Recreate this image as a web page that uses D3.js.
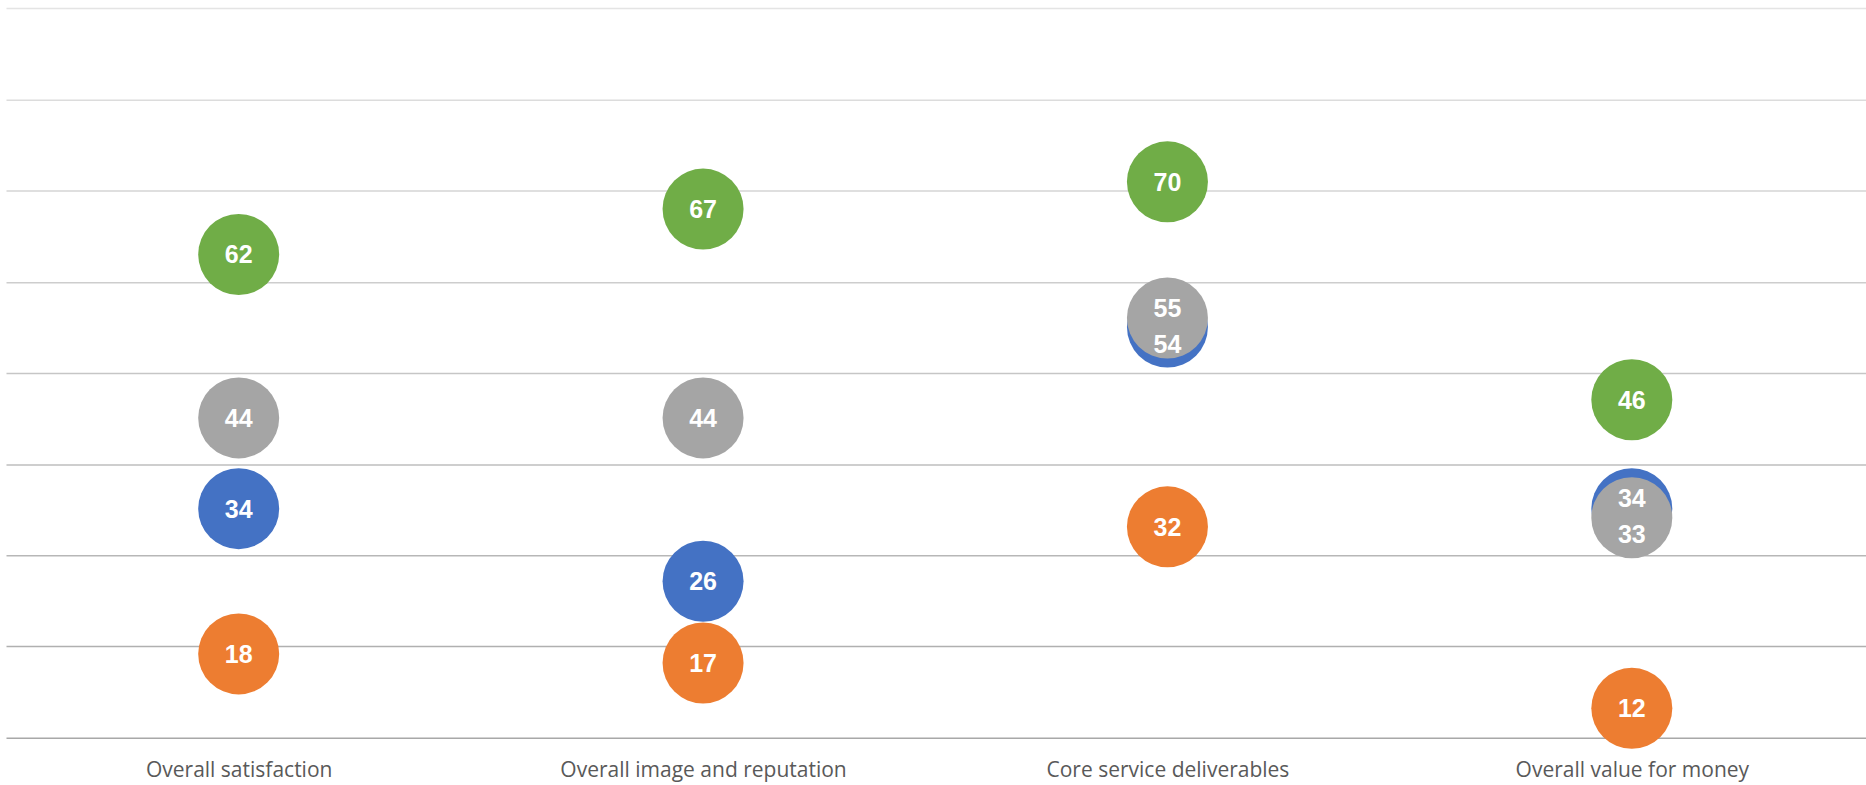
<!DOCTYPE html>
<html>
<head>
<meta charset="utf-8">
<script src="https://cdn.jsdelivr.net/npm/d3@7"></script>
<style>
  html, body { margin: 0; padding: 0; background: #ffffff; }
  svg { display: block; }
</style>
</head>
<body>
<svg id="chart" width="1866" height="785"></svg>
<script>
// ---- data ----
const categories = ["Overall satisfaction", "Overall image and reputation", "Core service deliverables", "Overall value for money"];
const seriesNames = ["Blue", "Orange", "Grey", "Green"];
const blueValues   = [34, 26, 54, 34];
const orangeValues = [18, 17, 32, 12];
const greyValues   = [44, 44, 55, 33];
const greenValues  = [62, 67, 70, 46];
const gridValues = [8.7, 18.8, 28.8, 38.8, 48.9, 58.9, 69.0, 79.0, 89.1];

// ---- styles ----
const colors = ["#4472C4", "#ED7D31", "#A5A5A5", "#70AD47"];
const allSeries = [blueValues, orangeValues, greyValues, greenValues];

const W = 1866, H = 785;
const plot = { left: 6.5, right: 1864, top: 8.5, bottom: 738.3 };

const svg = d3.select("#chart");

const x = d3.scalePoint().domain(categories).range([plot.left, plot.right]).padding(0.5);
const y = d3.scaleLinear().domain([gridValues[0], gridValues[gridValues.length - 1]]).range([plot.bottom, plot.top]);

const gridColor = d3.scaleLinear().domain([gridValues[gridValues.length - 1], gridValues[0]]).range(["#e4e4e4", "#a8a8a8"]);

// gridlines
svg.append("g").selectAll("line").data(gridValues).join("line")
  .attr("x1", plot.left).attr("x2", W)
  .attr("y1", d => y(d)).attr("y2", d => y(d))
  .attr("stroke", d => gridColor(d))
  .attr("stroke-width", 1.5);

// x axis labels
const xAxis = d3.axisBottom(x).tickSize(0).tickPadding(0);
const gx = svg.append("g").attr("transform", `translate(0, ${plot.bottom})`).call(xAxis);
gx.select(".domain").remove();
gx.selectAll("text")
  .attr("y", 0).attr("dy", null)
  .attr("transform", "translate(0, 39)")
  .attr("fill", "#595959")
  .style("font-family", "'Open Sans', 'Liberation Sans', sans-serif")
  .style("font-size", "21px");

// points
const points = [];
allSeries.forEach((vals, si) => {
  vals.forEach((v, ci) => points.push({ si, ci, v, cat: categories[ci] }));
});

const R = 40.5;
svg.append("g").selectAll("circle").data(points).join("circle")
  .attr("cx", d => x(d.cat))
  .attr("cy", d => y(d.v))
  .attr("r", R)
  .attr("fill", d => colors[d.si]);

// label positions: spread apart overlapping labels within a category
const minGap = 36;
categories.forEach((c, ci) => {
  const ps = points.filter(p => p.ci === ci).sort((a, b) => y(a.v) - y(b.v));
  ps.forEach(p => p.ly = y(p.v));
  for (let i = 1; i < ps.length; i++) {
    const a = ps[i - 1], b = ps[i];
    if (b.ly - a.ly < minGap) {
      const mid = (a.ly + b.ly) / 2 + 3;
      a.ly = mid - minGap / 2;
      b.ly = mid + minGap / 2;
    }
  }
});

svg.append("g").selectAll("text").data(points).join("text")
  .attr("x", d => x(d.cat))
  .attr("y", d => d.ly)
  .attr("dy", "0.36em")
  .attr("text-anchor", "middle")
  .attr("fill", "#ffffff")
  .style("font-family", "'Liberation Sans', Arial, sans-serif")
  .style("font-weight", "bold")
  .style("font-size", "25px")
  .text(d => d.v);
</script>
</body>
</html>
